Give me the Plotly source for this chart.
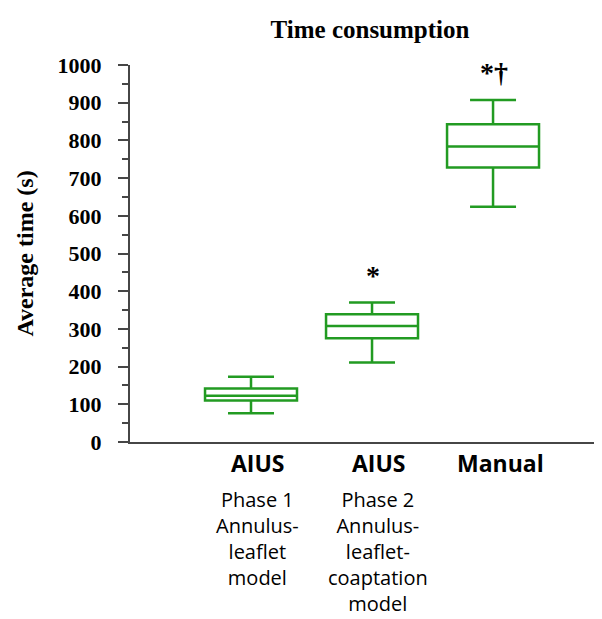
import plotly.graph_objects as go

# ---- data ----
categories = ["AIUS Phase 1", "AIUS Phase 2", "Manual"]
lower_whisker = [76, 211, 624]
q1_values = [110, 275, 728]
median_values = [123, 308, 784]
q3_values = [142, 339, 843]
upper_whisker = [173, 370, 907]

main_labels = ["AIUS", "AIUS", "Manual"]
sub_labels = ["Phase 1<br>Annulus-<br>leaflet<br>model",
              "Phase 2<br>Annulus-<br>leaflet-<br>coaptation<br>model",
              ""]
significance = ["", "*", "*\u2020"]
y_ticks = [0, 100, 200, 300, 400, 500, 600, 700, 800, 900, 1000]

GREEN = "rgb(34,155,34)"
AXIS = "rgb(70,70,70)"

fig = go.Figure()
fig.add_trace(go.Box(
    x=categories,
    q1=q1_values, median=median_values, q3=q3_values,
    lowerfence=lower_whisker, upperfence=upper_whisker,
    boxpoints=False,
    fillcolor="rgba(255,255,255,0)",
    line=dict(color=GREEN, width=2.5),
    whiskerwidth=0.5,
    width=0.76,
    showlegend=False,
    hoverinfo="skip",
))

annotations = []
for cat, main, sub, sig, top in zip(categories, main_labels, sub_labels,
                                    significance, upper_whisker):
    annotations.append(dict(
        x=cat, y=0, xref="x", yref="paper", text=main, showarrow=False,
        xanchor="center", yanchor="middle", xshift=7, yshift=-21,
        font=dict(family="Open Sans", size=23, color="black", weight="bold")))
    if sub:
        annotations.append(dict(
            x=cat, y=0, xref="x", yref="paper", text=sub, showarrow=False,
            xanchor="center", yanchor="top", xshift=6, yshift=-42,
            align="center",
            font=dict(family="Open Sans", size=20, color="black")))
    if sig:
        annotations.append(dict(
            x=cat, y=top, xref="x", yref="y", text=sig, showarrow=False,
            xanchor="center", yanchor="bottom", xshift=1, yshift=10,
            font=dict(family="Liberation Serif", size=28, color="black",
                      weight="bold")))

# y-axis title
annotations.append(dict(
    x=0, y=0.5, xref="paper", yref="paper", text="Average time (s)",
    showarrow=False, textangle=-90, xanchor="center", yanchor="middle",
    xshift=-106,
    font=dict(family="Liberation Serif", size=24, color="black",
              weight="bold")))

fig.update_layout(
    width=602, height=619,
    margin=dict(l=122, r=2, t=57, b=185),
    paper_bgcolor="white", plot_bgcolor="white",
    title=dict(text="Time consumption", x=362 / 602, xref="container",
               xanchor="center", y=1 - 21 / 619, yref="container",
               yanchor="middle",
               font=dict(family="Liberation Serif", size=25, color="black",
                         weight="bold")),
    annotations=annotations,
    xaxis=dict(range=[-1.0, 2.95], showticklabels=False, ticks="",
               showgrid=False, zeroline=False, showline=True,
               linecolor=AXIS, linewidth=2),
    yaxis=dict(range=[0, 1000], tickvals=y_ticks,
               ticktext=[str(v) for v in y_ticks],
               ticks="outside", ticklen=10, tickwidth=2, tickcolor=AXIS,
               ticklabelstandoff=12,
               minor=dict(dtick=50, ticks="outside", ticklen=6,
                          tickwidth=1.5, tickcolor=AXIS, showgrid=False),
               showgrid=False, zeroline=False, showline=True,
               linecolor=AXIS, linewidth=2,
               tickfont=dict(family="Liberation Serif", size=22,
                             color="black", weight="bold")),
)

fig.write_html("out.html")
